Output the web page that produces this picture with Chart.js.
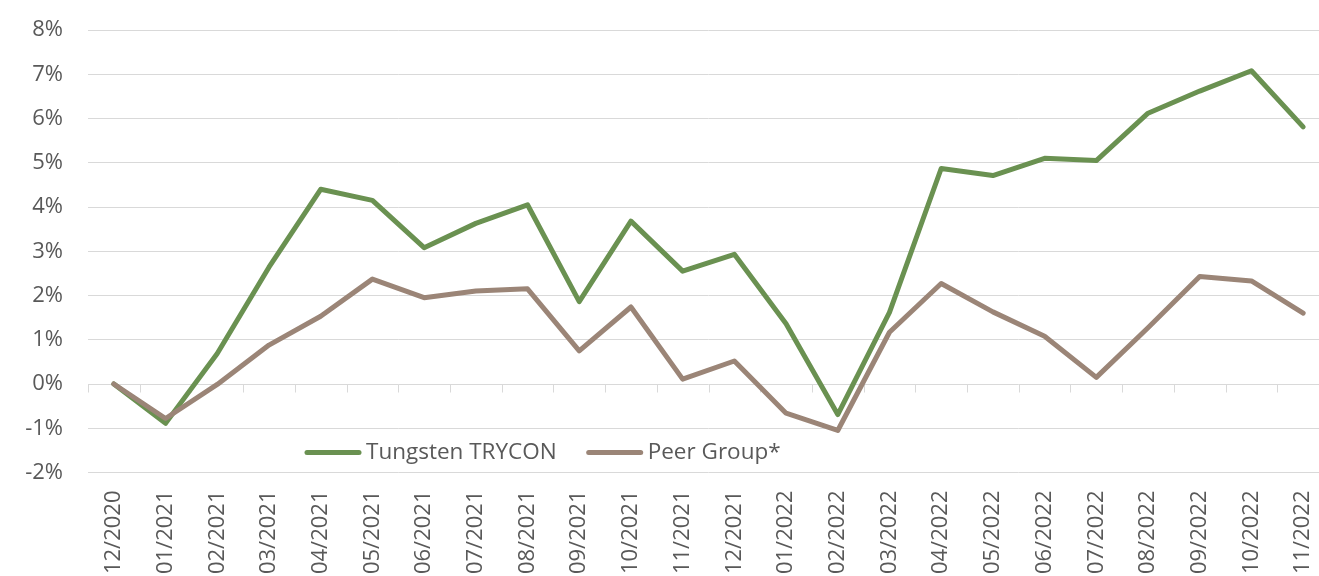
<!DOCTYPE html>
<html>
<head>
<meta charset="utf-8">
<script src="https://cdn.jsdelivr.net/npm/chart.js@4.4.1/dist/chart.umd.min.js"></script>
<style>
  html, body { margin: 0; padding: 0; background: #ffffff; overflow: hidden; }
  #wrap { width: 1319px; height: 576px; position: relative; overflow: hidden; }
  #inner { width: 1329px; height: 576px; position: absolute; left: 0; top: 0; }
</style>
</head>
<body>
<div id="wrap"><div id="inner"><canvas id="c"></canvas></div></div>
<script>
const categories = ['12/2020','01/2021','02/2021','03/2021','04/2021','05/2021','06/2021','07/2021','08/2021','09/2021','10/2021','11/2021','12/2021','01/2022','02/2022','03/2022','04/2022','05/2022','06/2022','07/2022','08/2022','09/2022','10/2022','11/2022'];
const tungstenTrycon = [0, -0.89, 0.69, 2.64, 4.40, 4.15, 3.08, 3.63, 4.05, 1.86, 3.68, 2.55, 2.93, 1.36, -0.69, 1.62, 4.87, 4.71, 5.10, 5.05, 6.12, 6.62, 7.08, 5.81];
const peerGroup = [0, -0.78, -0.01, 0.88, 1.53, 2.37, 1.95, 2.10, 2.15, 0.75, 1.74, 0.11, 0.52, -0.66, -1.05, 1.17, 2.27, 1.63, 1.08, 0.15, 1.27, 2.43, 2.33, 1.60];
const seriesNames = ['Tungsten TRYCON', 'Peer Group*'];
const yTickValues = [-2, -1, 0, 1, 2, 3, 4, 5, 6, 7, 8];

const GREEN = '#6a9151';
const BROWN = '#9b8577';
const TEXT = '#595959';
const GRID = '#d9d9d9';
const FONT = "'Open Sans', 'Noto Sans', sans-serif";

const zeroTicks = {
  id: 'zeroTicks',
  beforeDatasetsDraw(chart) {
    const x = chart.scales.x, y = chart.scales.y;
    const ctx = chart.ctx;
    const y0 = Math.round(y.getPixelForValue(0)) + 0.5;
    const half = (x.getPixelForValue(1) - x.getPixelForValue(0)) / 2;
    ctx.save();
    ctx.strokeStyle = GRID;
    ctx.lineWidth = 1;
    ctx.beginPath();
    for (let i = 0; i <= categories.length; i++) {
      const px = Math.round(x.getPixelForValue(i) - half) + 0.5;
      ctx.moveTo(px, y0);
      ctx.lineTo(px, y0 + 8);
    }
    ctx.stroke();
    ctx.restore();
  }
};

const innerLegend = {
  id: 'innerLegend',
  afterDraw(chart) {
    const ctx = chart.ctx;
    const area = chart.chartArea;
    const yc = chart.scales.y.getPixelForValue(-1.55);
    let xpos = area.left + 217;
    ctx.save();
    ctx.font = '22.5px ' + FONT;
    ctx.textBaseline = 'middle';
    ctx.textAlign = 'left';
    [0, 1].forEach((di) => {
      const ds = chart.data.datasets[di];
      ctx.strokeStyle = ds.borderColor;
      ctx.lineWidth = 5;
      ctx.lineCap = 'round';
      ctx.beginPath();
      ctx.moveTo(xpos + 2, yc);
      ctx.lineTo(xpos + 54, yc);
      ctx.stroke();
      ctx.fillStyle = TEXT;
      ctx.fillText(ds.label, xpos + 61, yc);
      xpos += 61 + ctx.measureText(ds.label).width + 30;
    });
    ctx.restore();
  }
};

new Chart(document.getElementById('c'), {
  type: 'line',
  data: {
    labels: categories,
    datasets: [
      {
        label: seriesNames[0],
        data: tungstenTrycon,
        borderColor: GREEN,
        backgroundColor: GREEN,
        borderWidth: 5,
        pointRadius: 0,
        tension: 0,
        borderJoinStyle: 'round',
        borderCapStyle: 'round',
        order: 1
      },
      {
        label: seriesNames[1],
        data: peerGroup,
        borderColor: BROWN,
        backgroundColor: BROWN,
        borderWidth: 5,
        pointRadius: 0,
        tension: 0,
        borderJoinStyle: 'round',
        borderCapStyle: 'round',
        order: 0
      }
    ]
  },
  options: {
    responsive: true,
    maintainAspectRatio: false,
    animation: false,
    devicePixelRatio: 1,
    layout: { padding: { top: 30, right: 0, bottom: 0, left: 0 } },
    plugins: {
      legend: { display: false },
      tooltip: { enabled: false }
    },
    scales: {
      x: {
        type: 'category',
        offset: true,
        grid: { display: false, drawTicks: false },
        border: { display: false },
        ticks: {
          autoSkip: false,
          minRotation: 90,
          maxRotation: 90,
          padding: 18,
          color: TEXT,
          font: { family: FONT, size: 22 }
        },
        afterFit(scale) {
          scale.height = 103.5;
          scale.paddingLeft = 0;
          scale.paddingRight = 0;
        }
      },
      y: {
        min: -2,
        max: 8,
        afterBuildTicks(scale) { scale.ticks = yTickValues.map(v => ({ value: v })); },
        grid: { color: GRID, lineWidth: 1, drawTicks: false },
        border: { display: false },
        ticks: {
          padding: 25,
          color: TEXT,
          font: { family: FONT, size: 22 },
          callback: (v) => v + '%'
        },
        afterFit(scale) {
          scale.width = 88;
          scale.paddingTop = 0;
          scale.paddingBottom = 0;
        }
      }
    }
  },
  plugins: [zeroTicks, innerLegend]
});
</script>
</body>
</html>
